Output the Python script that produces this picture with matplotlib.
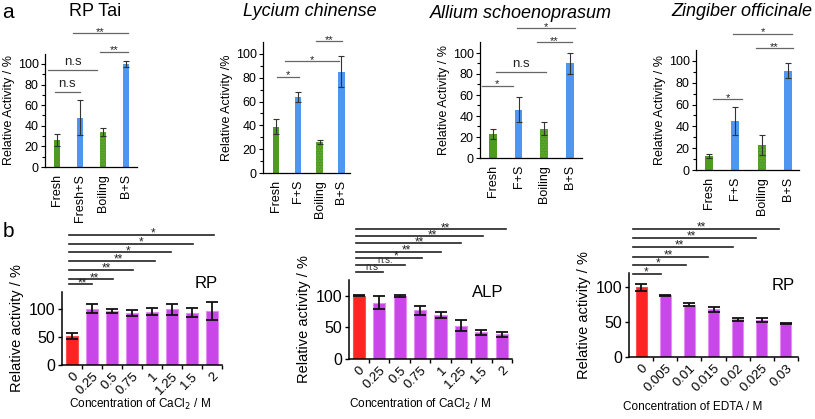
import numpy as np
import matplotlib
matplotlib.use("Agg")
import matplotlib.pyplot as plt

plt.rcParams["font.family"] = ["Liberation Sans", "DejaVu Sans"]

# ---- panel a data ----
a_titles = ["RP Tai", "Lycium chinense", "Allium schoenoprasum", "Zingiber officinale"]
a_labels = [["Fresh", "Fresh+S", "Boiling", "B+S"],
            ["Fresh", "F+S", "Boiling", "B+S"],
            ["Fresh", "F+S", "Boiling", "B+S"],
            ["Fresh", "F+S", "Boiling", "B+S"]]
a_means = [[26, 48, 34, 100],
           [39, 64, 26, 85],
           [23, 46, 28, 90],
           [13, 45, 23, 91]]
a_errs = [[6, 17, 4, 3],
          [6, 4, 2, 13],
          [5, 12, 6, 10],
          [2, 13, 9, 7]]
a_ylabels = ["Relative Activity / %", "Relative Activity /%",
             "Relative Activity / %", "Relative Activity / %"]
# significance brackets: (x start, x end, y, label)
a_sig = [[(-0.09, 1.0, 73, "n.s"), (-0.39, 1.74, 94, "n.s"),
          (1.87, 3.09, 112, "**"), (0.7, 3.09, 130, "**")],
         [(0.05, 1.06, 81, "*"), (0.41, 2.9, 94, "*"), (1.84, 3.04, 111, "**")],
         [(-0.43, 0.78, 69, "*"), (0.12, 2.06, 82, "n.s"),
          (1.71, 3.07, 110, "**"), (0.93, 3.19, 124, "*")],
         [(0.15, 1.25, 65, "*"), (1.79, 3.19, 112, "**"), (0.91, 3.16, 125, "*")]]

# ---- panel b data ----
b_tags = ["RP", "ALP", "RP"]
b_xlabels = ["Concentration of CaCl$_2$ / M", "Concentration of CaCl$_2$ / M",
             "Concentration of EDTA / M"]
b_conc = [["0", "0.25", "0.5", "0.75", "1", "1.25", "1.5", "2"],
          ["0", "0.25", "0.5", "0.75", "1", "1.25", "1.5", "2"],
          ["0", "0.005", "0.01", "0.015", "0.02", "0.025", "0.03"]]
b_means = [[52, 100, 96, 93, 95, 99, 93, 97],
           [100, 89, 100, 77, 70, 53, 42, 39],
           [100, 88, 75, 68, 54, 53, 48]]
b_errs = [[5, 8, 3, 5, 6, 10, 8, 16],
          [1, 10, 2, 7, 5, 8, 4, 4],
          [5, 1, 2, 4, 2, 3, 1]]
b_sig_start = [-0.15, -0.14, -0.33]
b_sig = [[(1.02, 144, "**"), (2.04, 153, "**"), (3.06, 170, "**"), (4.13, 186, "**"),
          (4.95, 201, "*"), (6.07, 216, "*"), (7.09, 232, "*")],
         [(1.19, 137, "n.s"), (2.24, 148, "n.s."), (3.1, 160, "*"), (4.0, 170, "**"),
          (5.0, 183, "**"), (6.1, 194, "**"), (7.19, 205, "**")],
         [(0.82, 119, "*"), (1.85, 131, "*"), (2.76, 143, "**"), (3.79, 157, "**"),
          (4.77, 170, "**"), (5.72, 183, "**")]]

W, H = 815, 419
fig = plt.figure(figsize=(W / 100, H / 100), dpi=100)


def rect(l, r, y0, top):
    return [l / W, 1 - y0 / H, (r - l) / W, (y0 - top) / H]


def ptxt(x, y, s, **kw):
    fig.text(x / W, 1 - y / H, s, **kw)


green = "#4f9a20"
blue = "#4e96f0"
red = "#ff2424"
mag = "#c946e8"

a_rects = [rect(45, 137, 167, 53.6), rect(263, 350, 173, 42),
           rect(480, 582, 158, 42.5), rect(696, 799, 170, 50)]
a_xlims = [(-0.52, 3.48), (-0.6, 3.4), (-0.5, 3.47), (-0.5, 3.42)]
a_title_pos = [(95, 12), (310, 12), (521, 14), (742, 12)]

for k in range(4):
    ax = fig.add_axes(a_rects[k])
    x = np.arange(4)
    cols = [green, blue, green, blue]
    bars = ax.bar(x, a_means[k], width=0.3, color=cols, zorder=2)
    bars[2].set_hatch("......")
    bars[2].set_edgecolor("#66ad3a")
    bars[2].set_linewidth(0)
    ax.errorbar(x, a_means[k], yerr=a_errs[k], fmt="none", ecolor="#333333",
                elinewidth=0.8, capsize=2, capthick=0.8, zorder=3)
    ax.set_xlim(*a_xlims[k])
    ax.set_ylim(0, 110)
    ax.set_yticks([0, 20, 40, 60, 80, 100])
    ax.set_yticks(np.arange(10, 110, 20), minor=True)
    ax.tick_params(axis="y", labelsize=9, length=3, width=0.8, pad=1.5)
    ax.tick_params(axis="y", which="minor", length=2, width=0.8)
    ax.set_xticks(x)
    ax.set_xticklabels(a_labels[k], rotation=90, fontsize=9)
    ax.tick_params(axis="x", length=0, pad=5)
    ax.set_ylabel(a_ylabels[k], fontsize=9, labelpad=2)
    for s in ["top", "right"]:
        ax.spines[s].set_visible(False)
    ax.spines["left"].set_linewidth(0.9)
    ax.spines["bottom"].set_linewidth(0.9)
    for x0, x1, y, lab in a_sig[k]:
        ax.plot([x0, x1], [y, y], color="#666666", lw=0.9, clip_on=False)
        ax.text((x0 + x1) / 2, y + (1 if "*" in lab else 2), lab, ha="center",
                va="bottom" if "n" in lab else "center", fontsize=9.5 if "n" in lab else 8,
                color="#222222", clip_on=False)
    tx, ty = a_title_pos[k]
    ptxt(tx, ty, a_titles[k], ha="center", va="center", fontsize=13,
         style="normal" if k == 0 else "italic")

ptxt(8, 12, "a", ha="center", va="center", fontsize=15)
ptxt(8, 231, "b", ha="center", va="center", fontsize=15)

b_rects = [rect(62, 222, 365, 292), rect(349, 512, 359, 280), rect(629, 798, 357, 273)]
b_xlims = [(-0.5, 7.3), (-0.48, 7.3), (-0.5, 6.45)]
b_ylims = [130, 125, 120]
b_widths = [0.6, 0.6, 0.45]
b_frac = [0.58, 0.6, 0.47]
b_tag_pos = [(218, 283), (503, 292), (795, 286)]
b_xlab_pos = [(140, 404), (420, 404), (693, 407)]

for k in range(3):
    ax = fig.add_axes(b_rects[k])
    n = len(b_means[k])
    x = np.arange(n)
    cols = [red] + [mag] * (n - 1)
    edges = ["#ff5050"] + ["#e58cf6"] * (n - 1)
    ax.bar(x, b_means[k], width=b_widths[k], color=cols, edgecolor=edges,
           linewidth=0.8, zorder=2)
    ax.errorbar(x, b_means[k], yerr=b_errs[k], fmt="none", ecolor="#111111",
                elinewidth=1.3, capsize=4, capthick=1.3, zorder=3)
    ax.set_xlim(*b_xlims[k])
    ax.set_ylim(0, b_ylims[k])
    ax.set_yticks([0, 50, 100])
    ax.tick_params(axis="y", labelsize=11.5, length=3, width=1, pad=2)
    ax.set_xticks(x)
    ax.set_xticklabels(b_conc[k], rotation=45, ha="right", rotation_mode="anchor",
                       fontsize=9.5)
    ax.set_xticks(np.arange(n) + 0.5, minor=True)
    ax.tick_params(axis="x", which="major", length=0, pad=4)
    ax.tick_params(axis="x", which="minor", length=3, width=1)
    ax.set_ylabel("Relative activity / %", fontsize=10.5, labelpad=3)
    for s in ["top", "right"]:
        ax.spines[s].set_visible(False)
    ax.spines["left"].set_linewidth(1.1)
    ax.spines["bottom"].set_linewidth(1.1)
    x0 = b_sig_start[k]
    for x1, y, lab in b_sig[k]:
        ax.plot([x0, x1], [y, y], color="#222222", lw=1.2, clip_on=False)
        xm = x0 + b_frac[k] * (x1 - x0)
        if "n" in lab:
            ax.text(xm, y + 1, lab, ha="center", va="bottom", fontsize=7,
                    color="#333333", clip_on=False)
        else:
            ax.text(xm, y + 2, lab, ha="center", va="center", fontsize=8.5,
                    color="#222222", clip_on=False)
    tx, ty = b_tag_pos[k]
    ptxt(tx, ty, b_tags[k], ha="right", va="center", fontsize=12)
    lx, ly = b_xlab_pos[k]
    ptxt(lx, ly, b_xlabels[k], ha="center", va="center", fontsize=8.5)

fig.savefig("out.png", dpi=100)
